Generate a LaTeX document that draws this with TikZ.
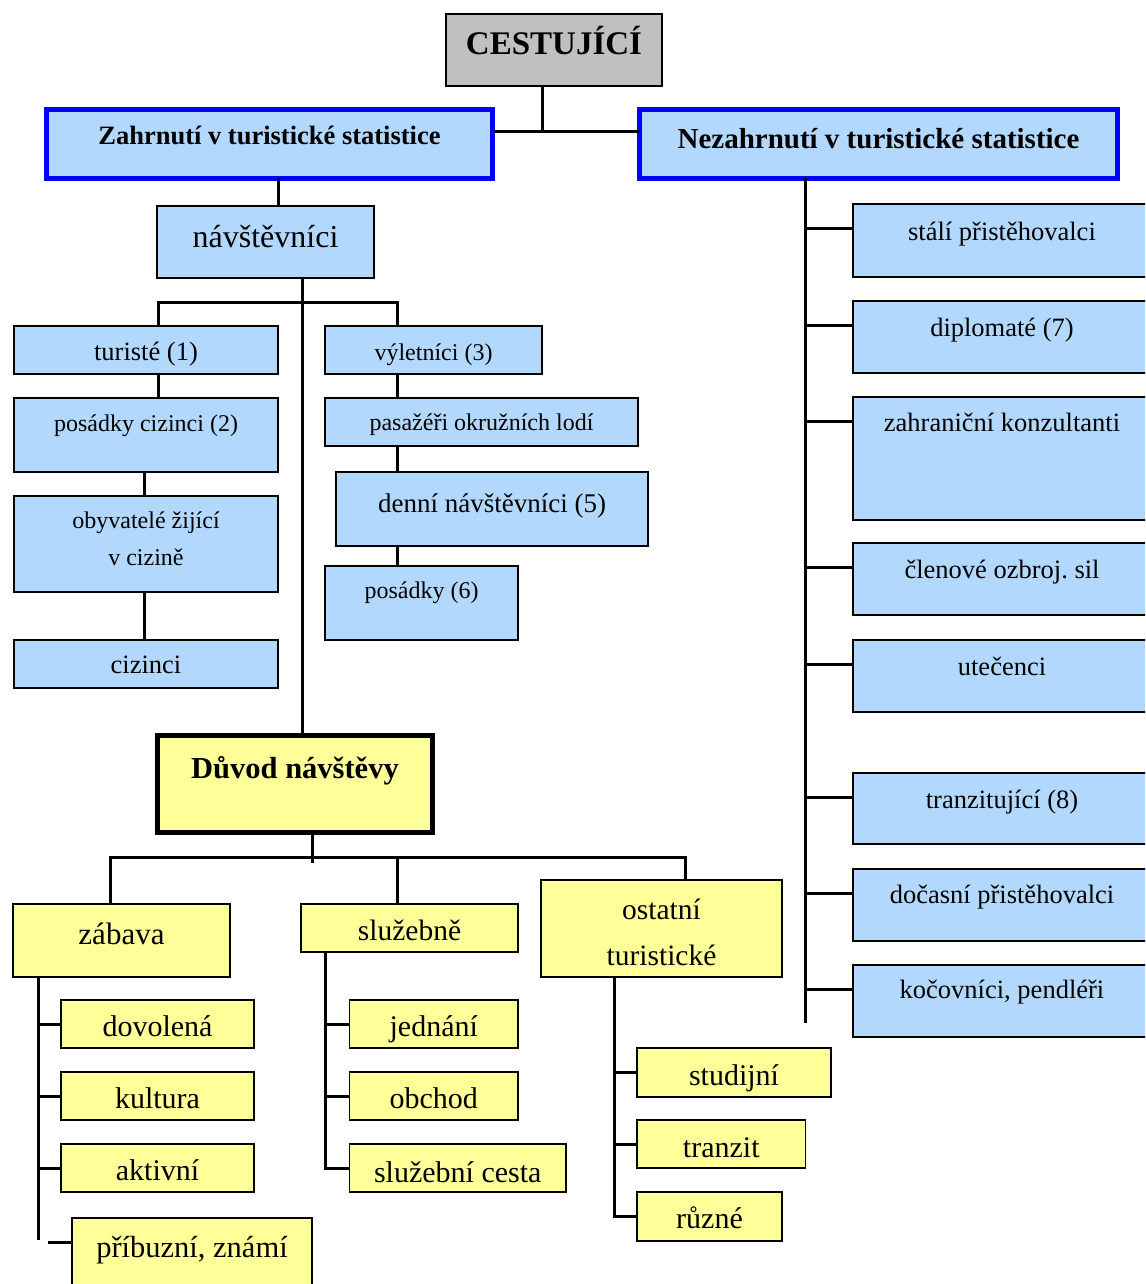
\documentclass[tikz,border=0pt]{standalone}
\usepackage{fontspec}
\setmainfont{Liberation Serif}
\usepackage{xcolor}
\usetikzlibrary{positioning}
\definecolor{lightblue}{RGB}{179,216,254}
\definecolor{paleyellow}{RGB}{255,255,153}
\definecolor{boxgray}{RGB}{192,192,192}
\definecolor{frameblue}{RGB}{0,0,255}
\frenchspacing

\begin{document}
\begin{tikzpicture}[x=1pt, y=-1pt,
  box/.style={draw=black, line width=1.8pt, inner sep=0pt, outer sep=0pt, anchor=north west, align=center},
  bluebox/.style={box, fill=lightblue},
  yellowbox/.style={box, fill=paleyellow},
  graybox/.style={box, fill=boxgray},
  sz/.style n args={3}{minimum width=#1pt, text height=#2pt, text depth=#3pt},
  fs/.style={font=\fontsize{#1}{#1}\selectfont},
  fb/.style={font=\fontsize{#1}{#1}\selectfont\bfseries},
  conn/.style={line width=3pt}]
\useasboundingbox (0,0) rectangle (1145,1284);
\clip (0,0) rectangle (1145,1284);

% Top level
\node[graybox, fb=33, sz={216}{41}{31}] (cestujici) at (446,14) {CESTUJÍCÍ};
\node[bluebox, draw=frameblue, line width=5pt, fb=26.5, sz={446}{35.5}{33.5}] (zahrnuti) at (46.5,109.5) {Zahrnutí v turistické statistice};
\node[bluebox, draw=frameblue, line width=5pt, fb=29, sz={478}{39.5}{29.5}] (nezahrnuti) at (639.5,109.5) {Nezahrnutí v turistické statistice};

% Visitors
\node[bluebox, fs=32, sz={217}{41}{31}] (navstevnici) at (157,206) {návštěvníci};
\node[bluebox, fs=26.5, sz={264}{34}{14}] (turiste) at (14,326) {turisté (1)};
\node[bluebox, fs=24, sz={264}{33}{41}] (posadky) at (14,398) {posádky cizinci (2)};
\node[bluebox, font=\fontsize{24}{37}\selectfont, sz={264}{69}{27}] (obyvatele) at (14,496) {obyvatelé žijící\\v cizině};
\node[bluebox, fs=26.5, sz={264}{33}{15}] (cizinci) at (14,640) {cizinci};
\node[bluebox, fs=24, sz={217}{34}{14}] (vyletnici) at (325,326) {výletníci (3)};
\node[bluebox, fs=24, sz={313}{32}{16}] (pasazeri) at (325,398) {pasažéři okružních lodí};
\node[bluebox, fs=27, sz={312}{40}{34}] (denni) at (336,472) {denní návštěvníci (5)};
\node[bluebox, fs=24, sz={193}{32}{42}] (posadkysest) at (325,566) {posádky (6)};

% Not included
\node[bluebox, fs=26.5, sz={298}{36}{37}] (stali) at (853,204) {stálí přistěhovalci};
\node[bluebox, fs=26.5, sz={298}{35}{37}] (diplomate) at (853,301) {diplomaté (7)};
\node[bluebox, fs=26.5, sz={298}{34}{89}] (zahranicni) at (853,397) {zahraniční konzultanti};
\node[bluebox, fs=26.5, sz={298}{35}{37}] (clenove) at (853,543) {členové ozbroj. sil};
\node[bluebox, fs=26.5, sz={298}{35}{37}] (utecenci) at (853,640) {utečenci};
\node[bluebox, fs=26.5, sz={298}{35}{36}] (tranzitujici) at (853,773) {tranzitující (8)};
\node[bluebox, fs=26.5, sz={298}{34}{38}] (docasni) at (853,869) {dočasní přistěhovalci};
\node[bluebox, fs=26.5, sz={298}{33}{39}] (kocovnici) at (853,965) {kočovníci, pendléři};

% Reason of visit
\node[yellowbox, line width=5pt, fb=30.5, sz={275}{42.5}{54.5}] (duvod) at (157.5,735.5) {Důvod návštěvy};
\node[yellowbox, fs=31, sz={217}{40}{33}] (zabava) at (13,904) {zábava};
\node[yellowbox, fs=29.5, sz={217}{36}{12}] (sluzebne) at (301,904) {služebně};
\node[yellowbox, font=\fontsize{29.5}{46}\selectfont, sz={241}{85}{12}] (ostatni) at (541,880) {ostatní\\turistické};

\node[yellowbox, fs=30, sz={193}{36}{12}] (dovolena) at (61,1000) {dovolená};
\node[yellowbox, fs=30, sz={193}{36}{12}] (kultura) at (61,1072) {kultura};
\node[yellowbox, fs=30, sz={193}{36}{12}] (aktivni) at (61,1144) {aktivní};
\node[yellowbox, fs=30.5, sz={240}{39}{35}] (pribuzni) at (72,1218) {příbuzní, známí};

\node[yellowbox, fs=30, sz={168.5}{36}{12}] (jednani) at (349.5,1000) {jednání};
\node[yellowbox, fs=30, sz={168.5}{36}{12}] (obchod) at (349.5,1072) {obchod};
\node[yellowbox, fs=30, sz={216.5}{38}{10}] (sluzcesta) at (349.5,1144) {služební cesta};

\node[yellowbox, fs=30, sz={194}{37}{12}] (studijni) at (637,1048) {studijní};
\node[yellowbox, fs=30, sz={168.5}{37}{11}] (tranzit) at (637,1120) {tranzit};
\node[yellowbox, fs=30, sz={145}{36}{13}] (ruzne) at (637,1192) {různé};

% Connectors at the top
\coordinate (fork) at (542,131.5);
\draw[conn] (cestujici.south -| fork) -- (fork);
\draw[conn] (zahrnuti.east |- fork) -- (nezahrnuti.west |- fork);
\draw[conn] (zahrnuti.south -| 278,0) -- (navstevnici.north -| 278,0);

% Visitors tree
\coordinate (vtrunk) at (302,302);
\draw[conn] (navstevnici.south -| vtrunk) -- (duvod.north -| vtrunk);
\draw[conn] (turiste.north -| 158,0) |- (vtrunk) -| (vyletnici.north -| 397.5,0);
\draw[conn] (turiste.south -| 158,0) -- (posadky.north -| 158,0);
\draw[conn] (posadky.south -| 144,0) -- (obyvatele.north -| 144,0);
\draw[conn] (obyvatele.south -| 144,0) -- (cizinci.north -| 144,0);
\foreach \a/\b in {vyletnici/pasazeri, pasazeri/denni, denni/posadkysest}
  \draw[conn] (\a.south -| 397.5,0) -- (\b.north -| 397.5,0);

% Not included trunk
\coordinate (rtrunk) at (805,1023);
\draw[conn] (nezahrnuti.south -| rtrunk) -- (rtrunk);
\foreach \n in {stali, diplomate, zahranicni, clenove, utecenci, tranzitujici, docasni, kocovnici}
  \draw[conn] ([yshift=-24pt]\n.north west) -- ++(-48,0);

% Reason tree
\coordinate (dtick) at (312,863);
\coordinate (hl) at (110,857);
\coordinate (hr) at (685,857);
\draw[conn] (duvod.south -| dtick) -- (dtick);
\draw[conn] (zabava.north -| hl) -- (hl) -- (hr) -- (ostatni.north -| hr);
\draw[conn] (sluzebne.north -| 397,0) -- (397,857);

% Leisure
\coordinate (zend) at (38,1240);
\draw[conn] (zabava.south -| zend) -- (zend);
\foreach \n in {dovolena, kultura, aktivni}
  \draw[conn] (\n.west) -- ++(-23,0);
\draw[conn] ([yshift=-24pt]pribuzni.north west) -- ++(-24,0);

% Business
\draw[conn] (sluzebne.south -| 325.5,0) |- (sluzcesta.west);
\foreach \n in {jednani, obchod}
  \draw[conn] (\n.west) -- ++(-24,0);

% Other
\draw[conn] (ostatni.south -| 614,0) |- (ruzne.west);
\foreach \n in {studijni, tranzit}
  \draw[conn] (\n.west) -- ++(-23,0);
\end{tikzpicture}
\end{document}
